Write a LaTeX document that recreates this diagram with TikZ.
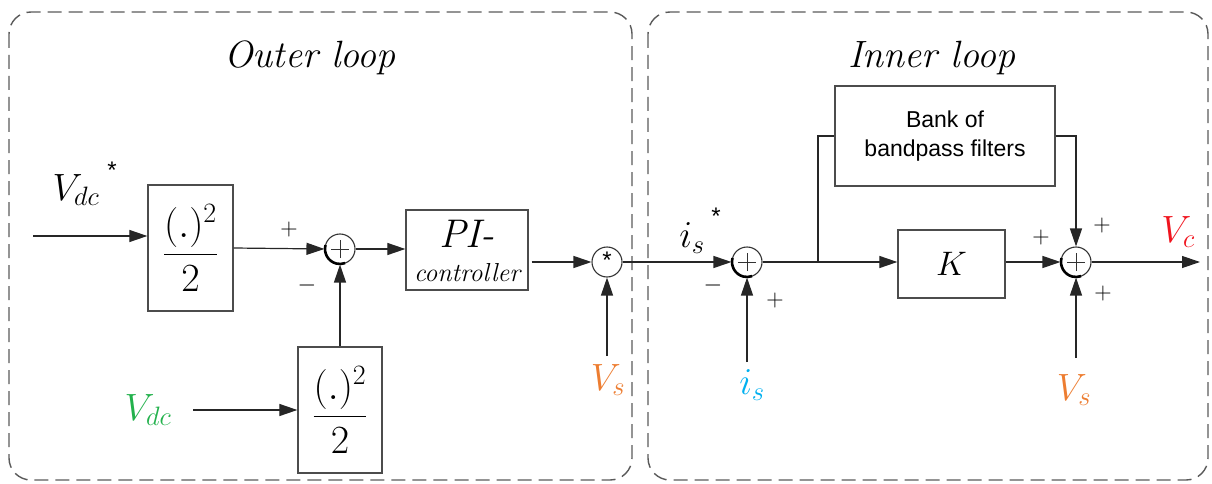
\RequirePackage{fix-cm}
\documentclass[tikz,border=0pt]{standalone}
\usepackage{fontspec}
\newfontfamily\arialf{Liberation Sans}
\usetikzlibrary{arrows.meta}
\definecolor{lgreen}{RGB}{34,177,76}
\definecolor{lorange}{RGB}{237,125,49}
\definecolor{lblue}{RGB}{0,176,240}
\definecolor{lred}{RGB}{240,20,30}
\definecolor{frame}{RGB}{90,90,90}
\newcommand\sumarc[1]{\draw[line width=2.6pt] (#1.center) ++(165:15pt) arc[start angle=165,end angle=290,radius=15pt];}
\begin{document}
\begin{tikzpicture}[x=1pt,y=-1pt,
  loopbox/.style={draw=frame, line width=1.4pt, dash pattern=on 14pt off 7pt, rounded corners=22pt},
  blk/.style={draw=black!70, line width=1.3pt, inner sep=0pt},
  sumc/.style={circle, draw=black!80, line width=1.1pt, minimum size=30pt, inner sep=0pt,
    path picture={\draw[line width=0.8pt] (path picture bounding box.center) ++(-9pt,0pt) -- ++(18pt,0pt);
                  \draw[line width=0.8pt] (path picture bounding box.center) ++(0pt,-9pt) -- ++(0pt,18pt);}},
  mulc/.style={circle, draw=black!80, line width=1.1pt, minimum size=30pt, inner sep=0pt},
  conn/.style={line width=1.2pt, draw=black!85},
  arr/.style={conn, -{Triangle[length=18pt,width=12pt]}},
  big/.style={font=\fontsize{38}{40}\selectfont, inner sep=0pt},
  frac/.style={font=\fontsize{40}{44}\selectfont, inner sep=0pt},
  sgn/.style={font=\fontsize{24}{24}\selectfont, inner sep=0pt},
  star/.style={font=\arialf\fontsize{24}{24}\selectfont, inner sep=0pt}]
\useasboundingbox (0,0) rectangle (1212,484);
% loop frames
\draw[loopbox] (9,12) rectangle (632,480);
\draw[loopbox] (648,12) rectangle (1208,480);
\node[font=\itshape\fontsize{38}{40}\selectfont] (tout) at (310,58) {Outer loop};
\node[font=\itshape\fontsize{38}{40}\selectfont] (tin) at (932,58) {Inner loop};
% outer loop
\node[big] (vdcr) at (76,190) {$V_{dc}$};
\node[star] (vdcrs) at (112,170) {*};
\coordinate (in1) at (33,236);
\node[blk, minimum width=85pt, minimum height=126pt] (sq1) at (190.5,248) {};
\node[frac] (f1) at (sq1.center) {$\displaystyle\frac{(.)^2}{2}$};
\node[sumc] (s1) at (340,249) {};
\sumarc{s1}
\node[blk, minimum width=84pt, minimum height=126pt] (sq2) at (340,410) {};
\node[frac] (f2) at (sq2.center) {$\displaystyle\frac{(.)^2}{2}$};
\node[big, text=lgreen] (vdc) at (148,410) {$V_{dc}$};
\coordinate (in2) at (193,410);
\node[blk, minimum width=122pt, minimum height=80pt] (pi) at (467,250) {};
\node[font=\itshape\fontsize{40}{40}\selectfont, inner sep=0pt] (pit) at (467,234) {PI-};
\node[font=\itshape\fontsize{26}{26}\selectfont, inner sep=0pt] (pic) at (467,273) {controller};
\node[mulc] (m) at (607,262) {};
\node[star] (mstar) at (607,260) {*};
\coordinate (vsl) at (607,356);
\node[big, text=lorange] (vslab) at (608,380) {$V_s$};
\node[sgn] (p1) at (289,229) {$+$};
\node[sgn] (n1) at (307,285) {$-$};
\draw[arr] (in1) -- (sq1.west |- in1);
\draw[arr] (sq1.east) -- (s1.west);
\draw[arr] (in2) -- (sq2.west);
\draw[arr] (sq2.north) -- (s1.south);
\draw[arr] (s1.east) -- (pi.west |- s1);
\draw[arr] ([xshift=3pt]pi.east |- m) -- (m.west);
\draw[arr] (vsl) -- (m.south);
% inner loop
\node[sumc] (s2) at (747,262) {};
\sumarc{s2}
\node[big] (isr) at (692,238) {$i_s$};
\node[star] (isrs) at (716,216) {*};
\node[sgn] (n2) at (713,285) {$-$};
\node[sgn] (p2) at (775,300) {$+$};
\coordinate (isc) at (747,362);
\node[big, text=lblue] (islab) at (752,385) {$i_s$};
\node[blk, minimum width=107pt, minimum height=68pt, font=\fontsize{34}{34}\selectfont] (k) at (951.5,264) {$K$};
\node[blk, minimum width=220pt, minimum height=100pt, align=center, font=\arialf\fontsize{23}{29}\selectfont] (bank) at (945,136) {Bank of\\bandpass filters};
\coordinate (br) at (818,262);
\node[sumc] (s3) at (1076,262) {};
\sumarc{s3}
\coordinate (out) at (1200,262);
\node[big, text=lred] (vc) at (1178,232) {$V_c$};
\coordinate (vsr) at (1076,358);
\node[big, text=lorange] (vsrlab) at (1074,390) {$V_s$};
\node[sgn] (p3) at (1041,237) {$+$};
\node[sgn] (p4) at (1102,225) {$+$};
\node[sgn] (p5) at (1103,293) {$+$};
\draw[arr] (m.east) -- (s2.west);
\draw[arr] (isc) -- (s2.south);
\draw[arr] (s2.east) -- (k.west |- s2);
\draw[conn] (br) |- (bank.west);
\draw[arr] (bank.east) -| (s3.north);
\draw[arr] (k.east |- s3) -- (s3.west);
\draw[arr] (s3.east) -- (out);
\draw[arr] (vsr) -- (s3.south);
\end{tikzpicture}
\end{document}
